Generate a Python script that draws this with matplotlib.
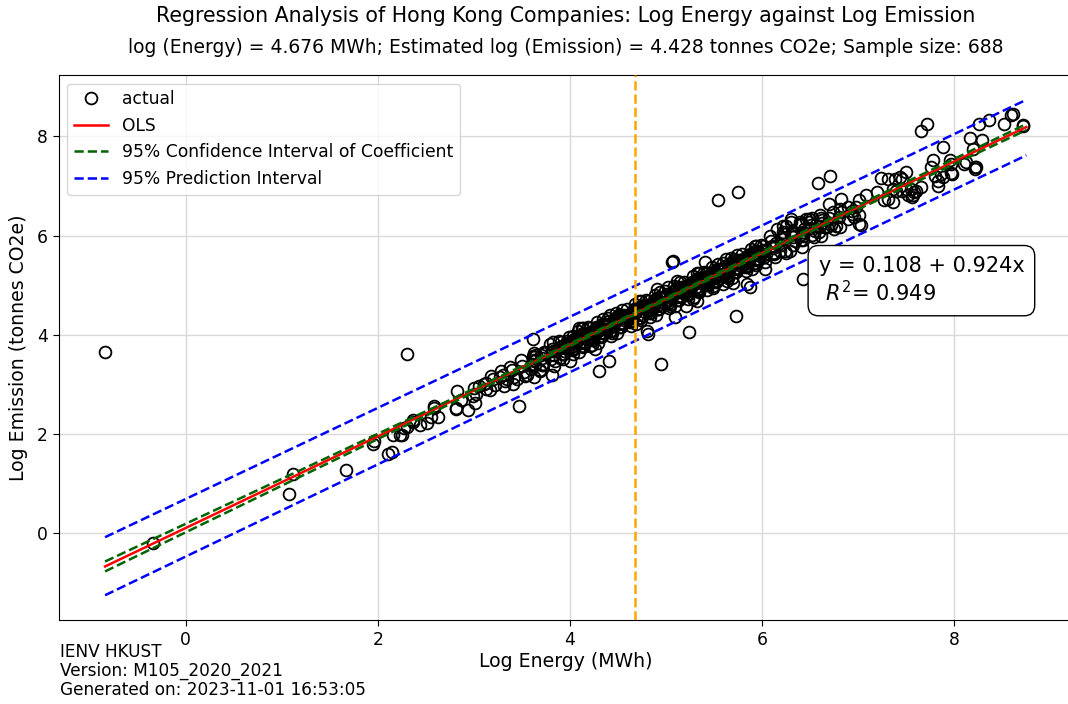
import matplotlib
matplotlib.use("Agg")
import matplotlib.pyplot as plt

# energy_mean / estimate shown in subtitle
energy_at = 4.676
emission_est = 4.428
sample_size = 688

footer_lines = ['IENV HKUST', 'Version: M105_2020_2021', 'Generated on: 2023-11-01 16:53:05']

# scattered points (log energy, log emission)
low_pts = [(-0.84, 3.66), (-0.34, -0.20), (1.12, 1.20), (1.07, 0.80), (1.67, 1.27),
           (1.95, 1.80), (1.96, 1.85), (2.11, 1.59), (2.15, 1.63), (2.30, 3.62),
           (2.16, 1.98), (2.25, 1.98), (2.23, 1.98), (2.27, 2.12), (2.30, 2.15),
           (2.37, 2.25), (2.37, 2.29), (2.44, 2.19), (2.51, 2.22), (2.55, 2.35),
           (2.63, 2.35), (2.58, 2.52), (2.58, 2.56), (2.81, 2.50), (2.81, 2.52),
           (2.82, 2.86), (2.86, 2.69), (2.94, 2.49), (3.01, 2.63), (2.99, 2.76),
           (3.05, 2.96), (3.13, 3.03), (3.17, 2.89), (3.27, 3.16), (3.31, 2.96),
           (3.41, 3.00), (3.45, 3.10), (3.34, 3.10), (3.55, 3.20), (3.62, 3.16),
           (3.69, 3.27), (3.71, 3.40), (3.65, 3.60), (3.62, 3.47), (3.81, 3.20),
           (3.83, 3.37), (3.90, 3.54), (3.86, 3.70), (4.00, 3.47), (3.97, 3.77),
           (4.09, 4.14), (4.10, 3.84), (4.21, 3.77), (4.26, 3.72), (4.03, 3.97),
           (3.61, 3.92), (3.47, 2.56)]

mid_pts = [(4.30, 3.27), (4.41, 3.47), (4.95, 3.42), (5.24, 4.06), (5.09, 4.35),
           (4.81, 4.01), (4.80, 4.08), (5.06, 5.46), (5.07, 5.48), (5.40, 5.46),
           (5.21, 4.58), (5.28, 4.72), (4.90, 4.92), (5.11, 5.09), (5.49, 4.99),
           (5.59, 5.19), (5.54, 6.71), (5.73, 4.39), (5.87, 4.97), (5.84, 5.02),
           (6.03, 5.32), (6.41, 5.77), (6.43, 5.12), (5.32, 4.68), (5.59, 5.02),
           (5.70, 5.05), (5.97, 5.53), (6.11, 5.66), (6.25, 5.66), (6.49, 6.34),
           (5.75, 6.89)]

high_pts = [(7.65, 8.12), (7.72, 8.26), (8.59, 8.44), (8.61, 8.46), (8.72, 8.24),
            (8.72, 8.22), (8.26, 8.26), (8.36, 8.33), (8.52, 8.26), (7.88, 7.79),
            (8.16, 7.97), (8.29, 7.92), (8.19, 7.75), (8.12, 7.48), (8.22, 7.35),
            (8.23, 7.38), (8.10, 7.45), (7.97, 7.45), (7.97, 7.27), (7.83, 7.01),
            (7.78, 7.53), (7.76, 7.38), (7.86, 7.25), (7.80, 7.21), (7.65, 6.98),
            (7.60, 6.91), (7.55, 6.94), (7.57, 6.81), (7.58, 6.88), (7.50, 7.28),
            (7.46, 7.15), (7.43, 7.18), (7.38, 7.15), (7.31, 7.15), (7.24, 7.16),
            (7.50, 6.94), (7.52, 6.81), (7.46, 6.91), (7.36, 6.94), (7.31, 6.74),
            (7.27, 6.71), (7.19, 6.88), (7.08, 6.81), (7.01, 6.71), (6.98, 6.57),
            (6.94, 6.50), (7.01, 6.23), (7.03, 6.21), (6.58, 7.06), (6.71, 7.21),
            (6.82, 6.74), (6.70, 6.64), (6.81, 6.54), (6.89, 6.57), (6.94, 6.44),
            (6.96, 6.37), (6.77, 6.20), (6.67, 6.17), (6.61, 6.00), (6.55, 6.10),
            (6.46, 6.34), (6.39, 6.23), (6.30, 6.34), (6.22, 6.20), (6.15, 6.13),
            (6.08, 6.00), (7.88, 7.18), (7.83, 7.11), (7.96, 7.53), (7.39, 6.91),
            (7.56, 6.77), (7.36, 6.67), (7.01, 6.41), (6.89, 6.34), (6.81, 6.17),
            (6.75, 6.13), (6.74, 6.47), (6.60, 6.41), (6.39, 6.27), (6.30, 6.27),
            (6.25, 6.20), (7.98, 7.25), (8.21, 7.38)]

# the crowded band around the fitted line (estimated, circles overlap heavily)
band_pts = [
    (3.00, 2.92), (3.02, 2.80), (3.10, 3.00), (3.12, 2.90), (3.20, 3.10), (3.22, 2.98), (3.18, 3.17),
    (3.30, 3.20), (3.32, 3.07), (3.28, 3.28), (3.40, 3.29), (3.42, 3.15), (3.38, 3.36),
    (3.50, 3.38), (3.52, 3.25), (3.49, 3.50), (3.53, 3.18), (3.60, 3.42), (3.62, 3.55), (3.59, 3.31), (3.63, 3.63),
    (3.70, 3.60), (3.72, 3.40), (3.69, 3.30), (3.73, 3.65), (3.80, 3.52), (3.82, 3.68), (3.79, 3.81), (3.83, 3.59),
    (3.90, 3.76), (3.92, 3.62), (3.89, 3.87), (3.93, 3.52), (3.95, 3.74), (3.97, 3.87), (3.94, 3.62), (3.96, 3.80),
    (4.00, 3.85), (4.02, 3.71), (3.99, 3.96), (4.03, 3.61), (3.98, 3.81), (4.01, 3.76),
    (4.05, 3.83), (4.07, 3.96), (4.04, 3.71), (4.08, 4.07), (4.03, 3.78), (4.06, 3.88),
    (4.10, 3.98), (4.12, 3.78), (4.09, 3.66), (4.13, 4.03), (4.08, 3.90), (4.11, 3.85),
    (4.15, 3.84), (4.17, 4.00), (4.14, 4.13), (4.18, 3.91), (4.13, 3.78), (4.16, 4.03),
    (4.20, 4.04), (4.22, 3.90), (4.19, 4.15), (4.23, 3.80), (4.18, 3.99), (4.21, 3.95),
    (4.25, 4.02), (4.27, 4.15), (4.24, 3.90), (4.28, 4.26), (4.23, 3.97), (4.26, 4.07),
    (4.30, 4.16), (4.32, 3.96), (4.29, 3.84), (4.33, 4.21), (4.28, 4.08), (4.31, 4.03),
    (4.35, 4.03), (4.37, 4.19), (4.34, 4.32), (4.38, 4.10), (4.33, 3.97), (4.36, 4.22),
    (4.40, 4.22), (4.42, 4.08), (4.39, 4.33), (4.43, 3.98), (4.38, 4.18), (4.41, 4.13),
    (4.45, 4.20), (4.47, 4.33), (4.44, 4.08), (4.48, 4.44), (4.43, 4.15), (4.46, 4.25),
    (4.50, 4.35), (4.52, 4.15), (4.49, 4.03), (4.53, 4.40), (4.48, 4.27), (4.51, 4.22),
    (4.55, 4.21), (4.57, 4.37), (4.54, 4.50), (4.58, 4.28), (4.53, 4.15), (4.56, 4.40),
    (4.60, 4.41), (4.62, 4.27), (4.59, 4.52), (4.63, 4.17), (4.58, 4.37), (4.61, 4.32),
    (4.65, 4.39), (4.67, 4.52), (4.64, 4.27), (4.68, 4.63), (4.63, 4.34), (4.66, 4.44),
    (4.70, 4.53), (4.72, 4.33), (4.69, 4.21), (4.73, 4.58), (4.68, 4.45), (4.71, 4.40),
    (4.75, 4.40), (4.77, 4.56), (4.74, 4.69), (4.78, 4.47), (4.73, 4.34), (4.76, 4.59),
    (4.80, 4.59), (4.82, 4.45), (4.79, 4.70), (4.83, 4.35), (4.78, 4.55), (4.81, 4.50),
    (4.85, 4.57), (4.87, 4.70), (4.84, 4.45), (4.88, 4.81), (4.83, 4.52), (4.86, 4.62),
    (4.90, 4.72), (4.92, 4.52), (4.89, 4.40), (4.93, 4.77), (4.88, 4.64), (4.91, 4.59),
    (4.95, 4.58), (4.97, 4.74), (4.94, 4.87), (4.98, 4.65), (4.93, 4.52), (4.96, 4.77),
    (5.00, 4.78), (5.02, 4.64), (4.99, 4.89), (5.03, 4.54), (4.98, 4.74), (5.01, 4.69),
    (5.05, 4.75), (5.07, 4.88), (5.04, 4.63), (5.08, 4.99), (5.03, 4.70), (5.06, 4.80),
    (5.10, 4.90), (5.12, 4.70), (5.09, 4.58), (5.13, 4.95), (5.08, 4.82), (5.11, 4.77),
    (5.15, 4.77), (5.17, 4.93), (5.14, 5.06), (5.18, 4.84), (5.13, 4.71), (5.16, 4.96),
    (5.20, 4.96), (5.22, 4.82), (5.19, 5.07), (5.23, 4.72), (5.18, 4.92), (5.21, 4.87),
    (5.25, 4.94), (5.27, 5.07), (5.24, 4.82), (5.28, 5.18), (5.23, 4.89), (5.26, 4.99),
    (5.30, 5.09), (5.32, 4.89), (5.29, 4.77), (5.33, 5.14), (5.28, 5.01), (5.31, 4.96),
    (5.35, 4.95), (5.37, 5.11), (5.34, 5.24), (5.38, 5.02), (5.33, 4.89), (5.36, 5.14),
    (5.40, 5.15), (5.42, 5.01), (5.39, 5.26), (5.43, 4.91), (5.38, 5.11), (5.41, 5.06),
    (5.45, 5.12), (5.47, 5.25), (5.44, 5.00), (5.48, 5.36), (5.43, 5.07), (5.46, 5.17),
    (5.50, 5.27), (5.52, 5.07), (5.49, 4.95), (5.53, 5.32), (5.48, 5.19), (5.51, 5.14),
    (5.55, 5.14), (5.57, 5.30), (5.54, 5.43), (5.58, 5.21), (5.53, 5.08), (5.56, 5.33),
    (5.60, 5.33), (5.62, 5.19), (5.59, 5.44), (5.63, 5.09), (5.58, 5.29), (5.61, 5.24),
    (5.65, 5.31), (5.67, 5.44), (5.64, 5.19), (5.68, 5.55), (5.63, 5.26), (5.66, 5.36),
    (5.70, 5.46), (5.72, 5.26), (5.69, 5.14), (5.73, 5.51), (5.68, 5.38), (5.71, 5.33),
    (5.75, 5.32), (5.77, 5.48), (5.74, 5.61), (5.78, 5.39), (5.73, 5.26), (5.76, 5.51),
    (5.80, 5.52), (5.82, 5.38), (5.79, 5.63), (5.83, 5.28), (5.78, 5.47), (5.81, 5.43),
    (5.85, 5.49), (5.87, 5.62), (5.84, 5.37), (5.88, 5.73), (5.83, 5.44), (5.86, 5.54),
    (5.90, 5.64), (5.92, 5.44), (5.89, 5.32), (5.93, 5.69), (5.88, 5.56), (5.91, 5.51),
    (5.95, 5.51), (5.97, 5.67), (5.94, 5.80), (5.98, 5.58), (5.93, 5.45), (5.96, 5.70),
    (6.00, 5.70), (6.02, 5.56), (5.99, 5.81), (6.03, 5.46), (5.98, 5.66), (6.01, 5.61),
    (6.10, 5.79), (6.12, 5.65), (6.09, 5.90), (6.13, 5.56), (6.20, 5.82), (6.22, 5.95), (6.19, 5.70), (6.23, 6.03),
    (6.30, 6.01), (6.32, 5.81), (6.29, 5.70), (6.33, 6.06), (6.40, 5.92), (6.42, 6.08), (6.39, 6.21), (6.43, 6.00),
    (6.50, 6.16), (6.52, 6.02), (6.49, 6.27), (6.60, 6.19), (6.62, 6.32), (6.59, 6.08),
    (6.70, 6.35), (6.72, 6.22), (6.80, 6.38), (6.82, 6.47)]

# more of the band, between the columns above
band_pts_2 = [
    (3.62, 3.49), (3.64, 3.39), (3.61, 3.58), (3.72, 3.42), (3.74, 3.64), (3.71, 3.54),
    (3.82, 3.85), (3.84, 3.47), (3.81, 3.71), (3.92, 3.77), (3.94, 3.68), (3.91, 3.86),
    (4.02, 3.70), (4.04, 3.92), (4.01, 3.82), (4.12, 4.13), (4.14, 3.75), (4.11, 3.99),
    (4.22, 4.04), (4.24, 3.95), (4.21, 4.13), (4.32, 3.97), (4.34, 4.19), (4.31, 4.09),
    (4.42, 4.41), (4.44, 4.03), (4.41, 4.27), (4.52, 4.32), (4.54, 4.23), (4.51, 4.41),
    (4.62, 4.25), (4.64, 4.47), (4.61, 4.37), (4.72, 4.68), (4.74, 4.30), (4.71, 4.54),
    (4.82, 4.60), (4.84, 4.51), (4.81, 4.69), (4.92, 4.53), (4.94, 4.75), (4.91, 4.65),
    (5.02, 4.96), (5.04, 4.58), (5.01, 4.82), (5.12, 4.87), (5.14, 4.78), (5.11, 4.96),
    (5.22, 4.81), (5.24, 5.03), (5.21, 4.93), (5.32, 5.24), (5.34, 4.86), (5.31, 5.10),
    (5.42, 5.15), (5.44, 5.06), (5.41, 5.24), (5.52, 5.08), (5.54, 5.30), (5.51, 5.20),
    (5.62, 5.52), (5.64, 5.14), (5.61, 5.38), (5.72, 5.43), (5.74, 5.34), (5.71, 5.52),
    (5.82, 5.36), (5.84, 5.58), (5.81, 5.48), (5.92, 5.79), (5.94, 5.41), (5.91, 5.65),
    (6.02, 5.71), (6.04, 5.62), (6.01, 5.80), (6.12, 5.64), (6.14, 5.86), (6.11, 5.76),
    (6.22, 6.07), (6.24, 5.69), (6.21, 5.93), (6.32, 5.98), (6.34, 5.89), (6.31, 6.07),
    (6.42, 5.92), (6.44, 6.14), (6.41, 6.04), (6.52, 6.35), (6.54, 5.97), (6.51, 6.21),
    (6.62, 6.26), (6.64, 6.17), (6.61, 6.35)]

# fitted line and bands (end points)
ols_x = [-0.84, 8.75]
ols_y = [-0.67, 8.19]
ci_x = [-0.84, 1.5, 3.5, 4.68, 6.0, 8.75]
ci_lo = [-0.77, 1.43, 3.31, 4.41, 5.62, 8.13]
ci_hi = [-0.57, 1.55, 3.37, 4.45, 5.68, 8.25]
pi_x = [-0.84, 4.68, 8.75]
pi_lo = [-1.25, 3.88, 7.62]
pi_hi = [-0.08, 4.99, 8.74]

pts = low_pts + mid_pts + high_pts + band_pts + band_pts_2
xs = [p[0] for p in pts]
ys = [p[1] for p in pts]

fig = plt.figure(figsize=(10.68, 7.04), dpi=100)
# right edge of the axes runs past the picture, as in the original crop
ax = fig.add_axes([0.0552, 0.1193, 0.9598, 0.7742])

ax.plot(xs, ys, 'o', mfc='none', mec='black', ms=8.5, mew=1.3, label='actual', zorder=2)
ax.plot(ols_x, ols_y, color='red', lw=1.8, label='OLS', zorder=3)
ax.plot(ci_x, ci_lo, '--', color='darkgreen', lw=1.8,
        label='95% Confidence Interval of Coefficient', zorder=3)
ax.plot(ci_x, ci_hi, '--', color='darkgreen', lw=1.8, zorder=3)
ax.plot(pi_x, pi_lo, '--', color='blue', lw=1.8, label='95% Prediction Interval', zorder=3)
ax.plot(pi_x, pi_hi, '--', color='blue', lw=1.8, zorder=3)
ax.axvline(energy_at, color='orange', ls='--', lw=1.8, zorder=3)

ax.set_xlim(-1.32, 9.35)
ax.grid(True, color='#d9d9d9', lw=1)
ax.set_axisbelow(True)
ax.tick_params(labelsize=12.3, length=4.5)
ax.legend(loc='upper left', fontsize=12.3, framealpha=0.8)

ax.text(0.741, 0.668, 'y = 0.108 + 0.924x\n $R^2$= 0.949', transform=ax.transAxes,
        fontsize=15, va='top', ha='left',
        bbox=dict(boxstyle='round,pad=0.5', fc='white', ec='black'))

ax.set_xlabel('Log Energy (MWh)', fontsize=13.6)
ax.xaxis.set_label_coords(0.5 * 0.9495 / 0.9598, -0.058)
fig.text(0.0169, 0.506, 'Log Emission (tonnes CO2e)', rotation=90, fontsize=13.6,
         ha='center', va='center')

fig.text(0.530, 0.977, 'Regression Analysis of Hong Kong Companies: Log Energy against Log Emission',
         fontsize=14.8, ha='center', va='center')
fig.text(0.530, 0.932, f'log (Energy) = {energy_at} MWh; Estimated log (Emission) = {emission_est} '
         f'tonnes CO2e; Sample size: {sample_size}', fontsize=13.5, ha='center', va='center')

# footer, one line per text
for i, line in enumerate(footer_lines):
    fig.text(0.056, 1 - (652 + 19 * i) / 704, line, fontsize=12.2, ha='left', va='center')

fig.savefig('out.png', dpi=100)
